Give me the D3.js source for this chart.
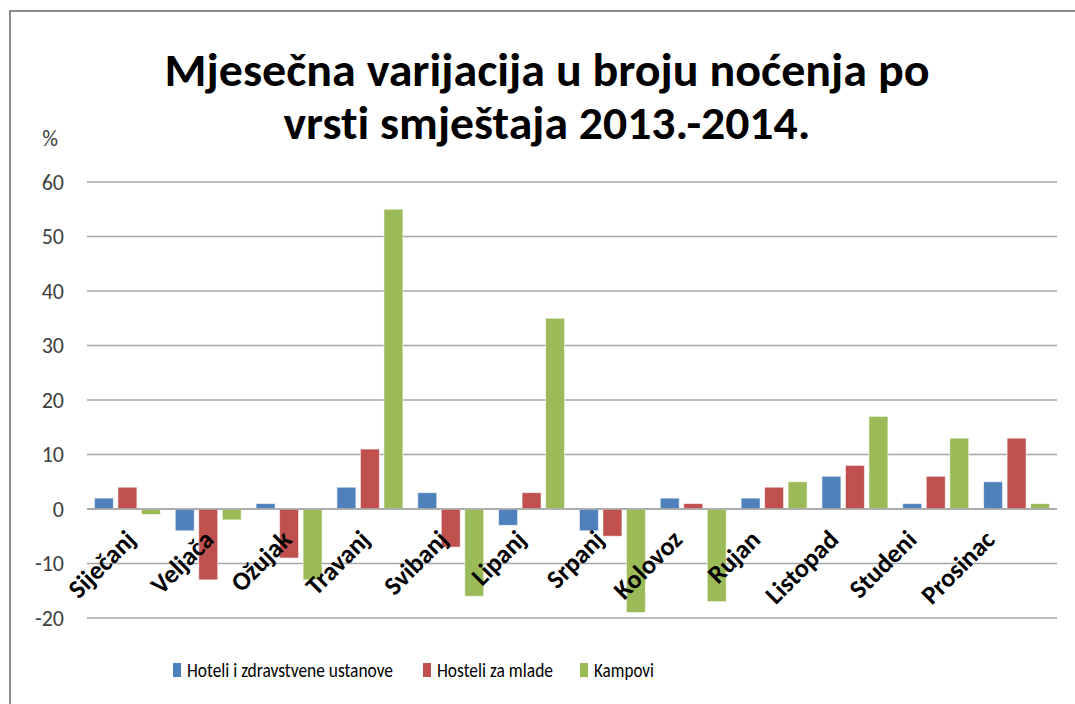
<!DOCTYPE html>
<html>
<head>
<meta charset="utf-8">
<script src="https://cdn.jsdelivr.net/npm/d3@7"></script>
<style>
  html, body { margin: 0; padding: 0; background: #fff; }
  svg { display: block; }
  text { font-variant-ligatures: none; }
</style>
</head>
<body>
<svg id="chart" width="1075" height="704"></svg>
<script>
// chart data
const months = ['Siječanj', 'Veljača', 'Ožujak', 'Travanj', 'Svibanj', 'Lipanj',
  'Srpanj', 'Kolovoz', 'Rujan', 'Listopad', 'Studeni', 'Prosinac']
const seriesNames = ['Hoteli i zdravstvene ustanove', 'Hosteli za mlade', 'Kampovi']
const hoteli = [2, -4, 1, 4, 3, -3, -4, 2, 2, 6, 1, 5]
const hosteli = [4, -13, -9, 11, -7, 3, -5, 1, 4, 8, 6, 13]
const kampovi = [-1, -2, -13, 55, -16, 35, -19, -17, 5, 17, 13, 1]
const yTicks = [-20, -10, 0, 10, 20, 30, 40, 50, 60]
const colors = ['#4F81BD', '#C0504D', '#9BBB59']
const titleLines = ['Mjesečna varijacija u broju noćenja po', 'vrsti smještaja 2013.-2014.']

const font = "Calibri, Carlito, Lato, sans-serif"
const svg = d3.select('#chart')

// outer frame (only top & left visible in the reference)
svg.append('path')
  .attr('d', 'M10,704 V11 H1075')
  .attr('fill', 'none')
  .attr('stroke', '#8c8c8c')
  .attr('stroke-width', 2)

const plot = { left: 87, right: 1057, top: 182, bottom: 618 }

const x = d3.scaleBand().domain(months).range([plot.left, plot.right])
const y = d3.scaleLinear().domain([-20, 60]).range([plot.bottom, plot.top])
// rotated labels sit a little tighter than the bars in the original
const xLabel = d3.scalePoint().domain(months).range([plot.left + 37, plot.right - 74])

const barW = 19, barStep = 23.5

// gridlines
svg.append('g')
  .selectAll('line')
  .data(yTicks)
  .join('line')
  .attr('x1', plot.left).attr('x2', plot.right)
  .attr('y1', d => y(d)).attr('y2', d => y(d))
  .attr('stroke', '#a6a6a6')
  .attr('stroke-width', 1.5)

// y axis labels
const yAxis = d3.axisLeft(y).tickValues(yTicks).tickFormat(d => String(d)).tickSize(0).tickPadding(0)
const yg = svg.append('g').attr('transform', `translate(${plot.left - 23},0)`).call(yAxis)
yg.select('.domain').remove()
yg.selectAll('text')
  .attr('font-family', font)
  .attr('font-size', 22)
  .attr('fill', '#404040')

svg.append('text')
  .attr('x', 50).attr('y', 146)
  .attr('text-anchor', 'middle')
  .attr('font-family', font)
  .attr('font-size', 22)
  .attr('fill', '#404040')
  .text('%')

// bars
const series = [hoteli, hosteli, kampovi]
series.forEach((vals, si) => {
  svg.append('g')
    .selectAll('rect')
    .data(vals)
    .join('rect')
    .attr('x', (d, i) => x(months[i]) + x.bandwidth() / 2 + (si - 1) * barStep - barW / 2)
    .attr('y', d => y(Math.max(0, d)))
    .attr('width', barW)
    .attr('height', d => Math.abs(y(d) - y(0)))
    .attr('fill', colors[si])
    .attr('stroke', '#ffffff')
    .attr('stroke-opacity', 0.6)
    .attr('stroke-width', 1)
})

// zero line on top of the bars
svg.append('line')
  .attr('x1', plot.left).attr('x2', plot.right)
  .attr('y1', y(0)).attr('y2', y(0))
  .attr('stroke', '#a6a6a6')
  .attr('stroke-width', 1.5)

// category labels, rotated
svg.append('g')
  .selectAll('text')
  .data(months)
  .join('text')
  .attr('transform', d => `translate(${xLabel(d)},${y(0) + 19}) rotate(-45)`)
  .attr('text-anchor', 'end')
  .attr('dy', '0.72em')
  .attr('font-family', font)
  .attr('font-weight', 'bold')
  .attr('font-size', 26)
  .attr('fill', '#000')
  .text(d => d)

// title
const titleW = [765, 527]
svg.append('g')
  .selectAll('text')
  .data(titleLines)
  .join('text')
  .attr('x', (d, i) => 547 - titleW[i] / 2)
  .attr('y', (d, i) => 86 + i * 53)
  .attr('textLength', (d, i) => titleW[i])
  .attr('lengthAdjust', 'spacingAndGlyphs')
  .attr('font-family', font)
  .attr('font-weight', 'bold')
  .attr('font-size', 46)
  .attr('fill', '#000')
  .text(d => d)

// legend
const legendX = [173, 423, 580]
const legendW = [206, 116, 60]
const leg = svg.append('g')
  .selectAll('g')
  .data(seriesNames)
  .join('g')
  .attr('transform', (d, i) => `translate(${legendX[i]},663)`)
leg.append('rect')
  .attr('width', 8).attr('height', 14)
  .attr('fill', (d, i) => colors[i])
leg.append('text')
  .attr('x', 14).attr('y', 14)
  .attr('textLength', (d, i) => legendW[i])
  .attr('lengthAdjust', 'spacingAndGlyphs')
  .attr('font-family', font)
  .attr('font-size', 21)
  .attr('fill', '#000')
  .text(d => d)
</script>
</body>
</html>
